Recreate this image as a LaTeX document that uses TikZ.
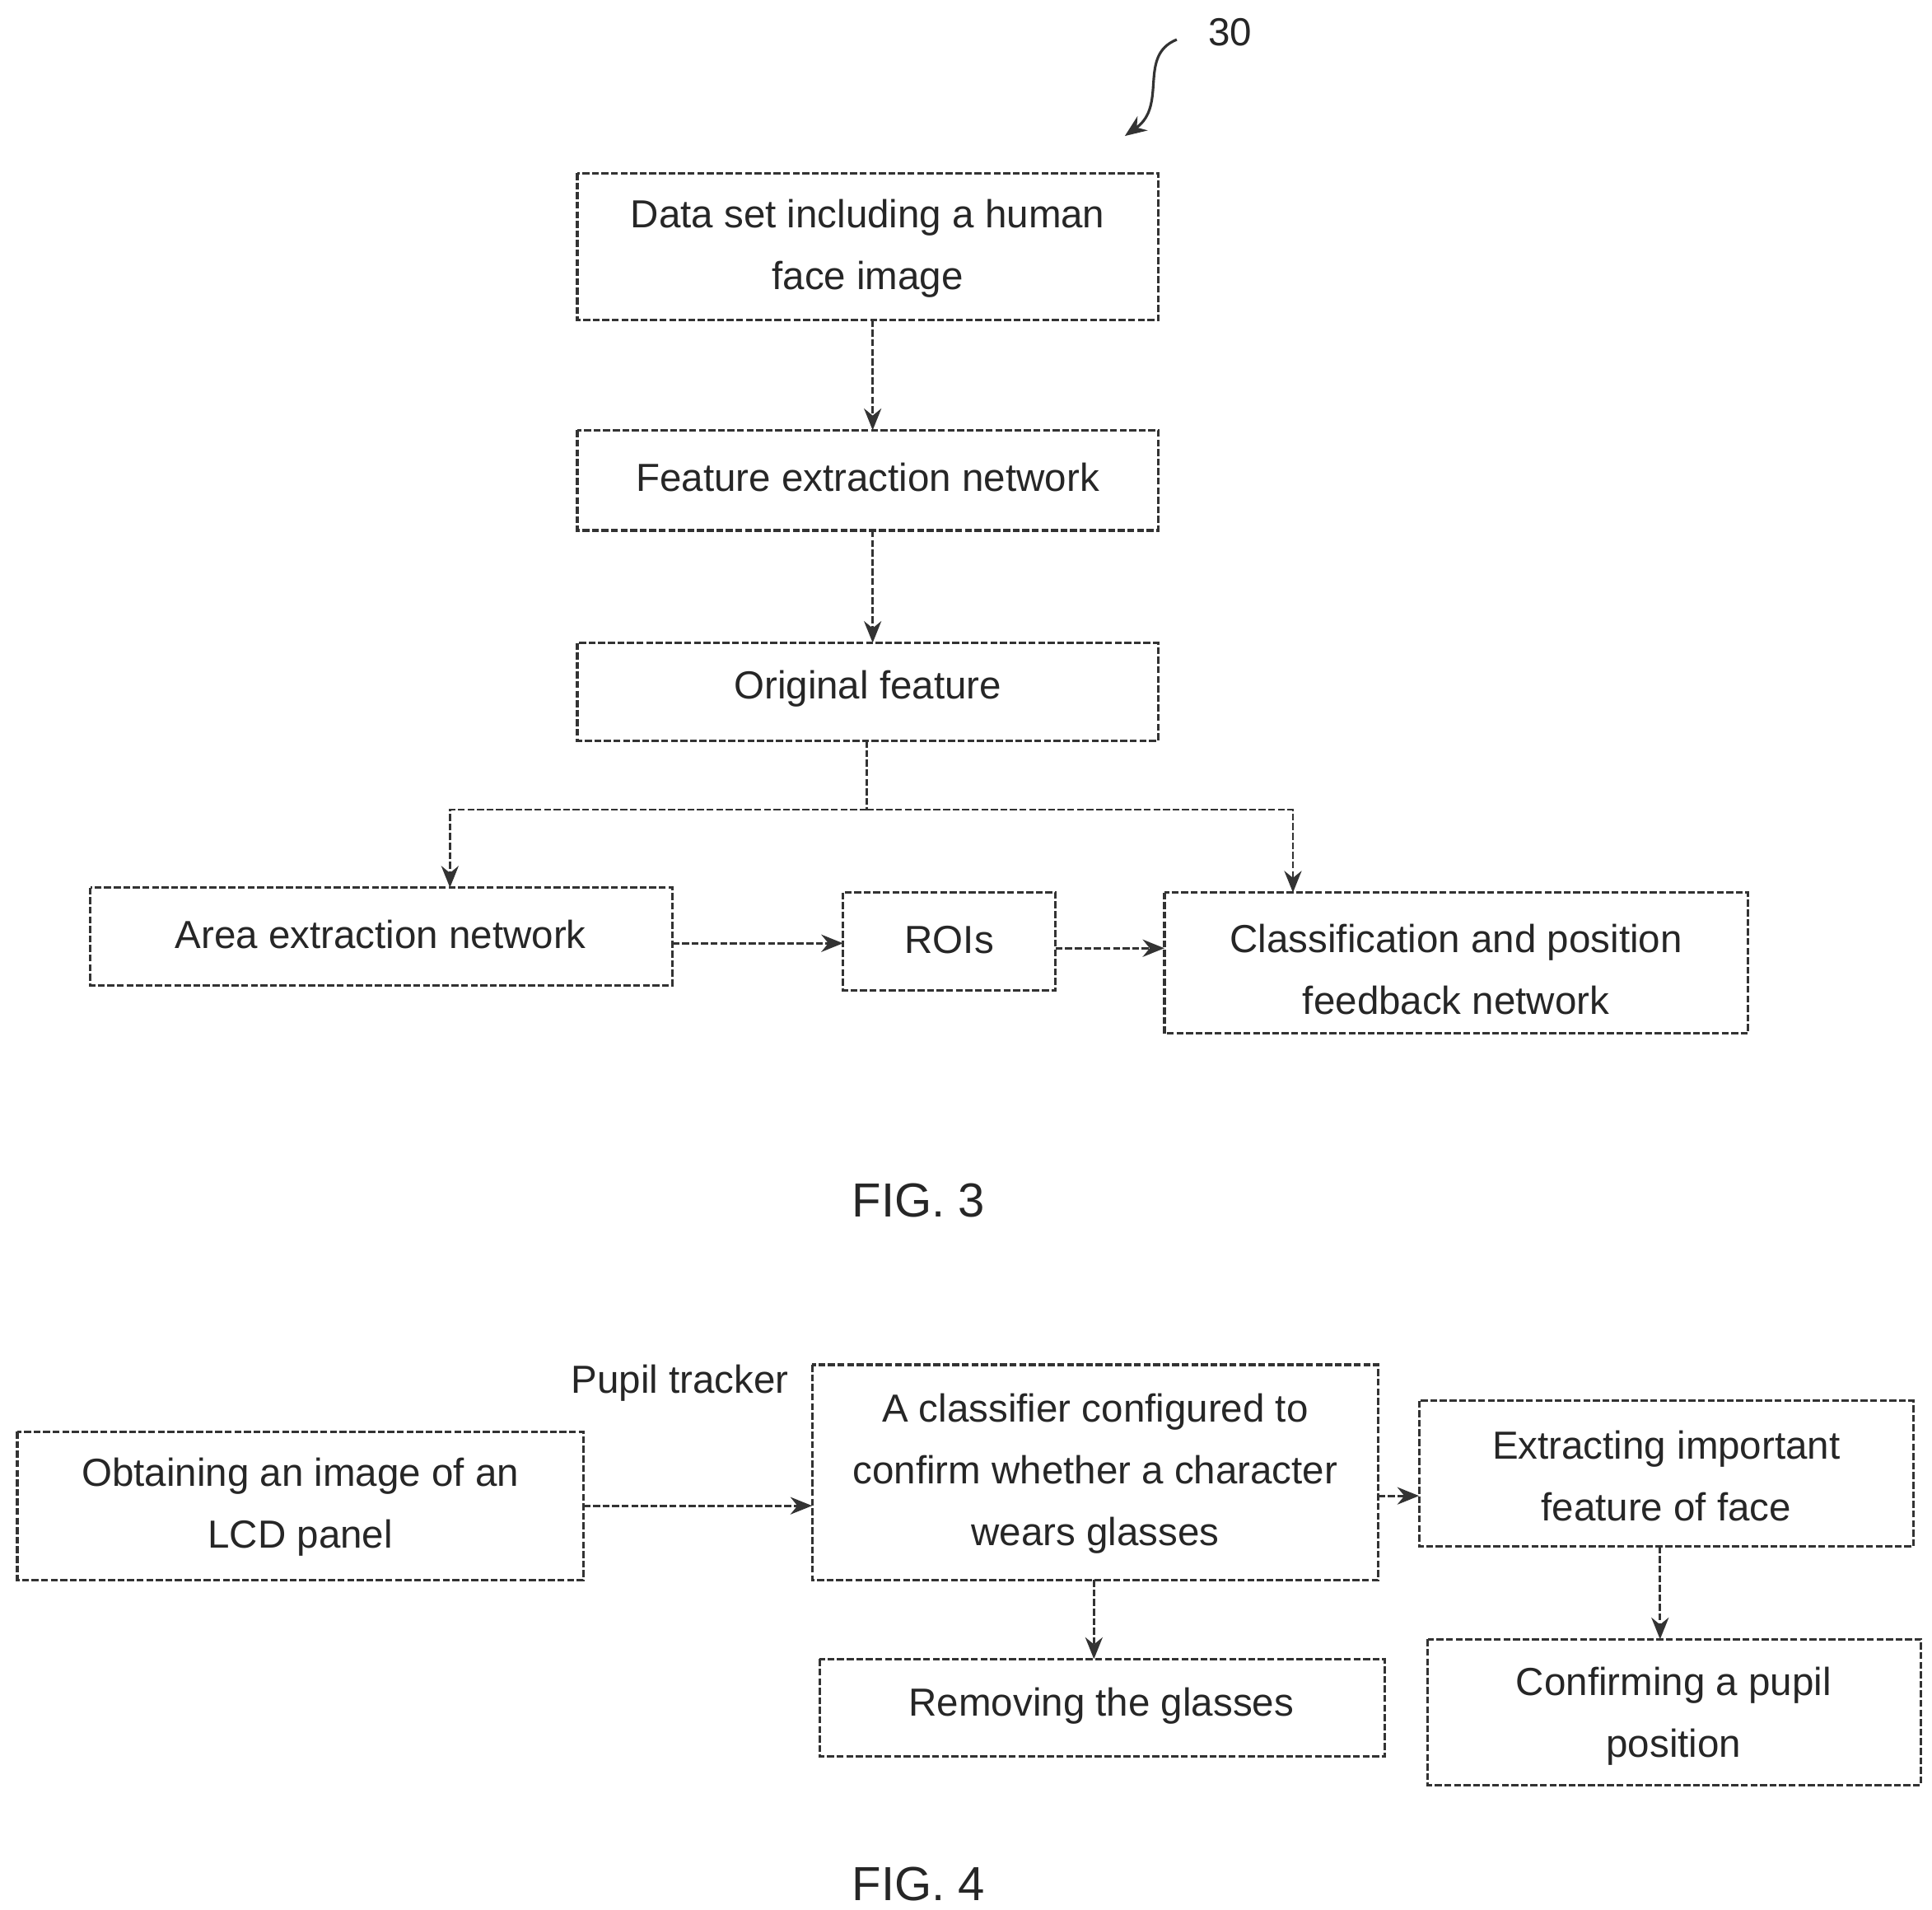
\documentclass[tikz,border=0pt]{standalone}
\usepackage{fontspec}
\setmainfont{Liberation Sans}
\usetikzlibrary{arrows.meta}
\begin{document}
\begin{tikzpicture}[x=0.01cm,y=-0.01cm,
 box/.style={draw=black!80,line width=0.6pt,dash pattern=on 1.6pt off 0.6pt},
 txt/.style={font=\fontsize{9}{14.2}\selectfont,align=center,text=black!85},
 arr/.style={draw=black!80,line width=0.5pt,dash pattern=on 1.6pt off 0.6pt,-{Stealth[length=5pt,width=4pt]}}]
\useasboundingbox (0,0) rectangle (1563,1545);
% FIG 3
\draw[box] (467,140) rectangle (937,259); \node[txt] (n1) at (702,201) {Data set including a human\\face image};
\coordinate (b1) at (706,259);
\draw[box] (467,348) rectangle (937,429); \node[txt] (n2) at (702,386) {Feature extraction network};
\coordinate (t2) at (706,348); \coordinate (b2) at (706,429);
\draw[box] (467,520) rectangle (937,599); \node[txt] (n3) at (702,557) {Original feature};
\coordinate (t3) at (706,520); \coordinate (b3) at (701,599);
\draw[box] (73,718) rectangle (544,797); \node[txt] (n4) at (308,756) {Area extraction network};
\draw[box] (682,722) rectangle (854,801); \node[txt] (n5) at (768,760) {ROIs};
\draw[box] (942,722) rectangle (1414,836); \node[txt] (n6) at (1178,784) {Classification and position\\feedback network};
\draw[arr] (b1) -- (t2);
\draw[arr] (b2) -- (t3);
\coordinate (j) at (701,655); \coordinate (jl) at (364,655); \coordinate (jr) at (1046,655);
\draw[box] (b3) -- (j);
\draw[arr] (j) -- (jl) -- (364,718);
\draw[arr] (j) -- (jr) -- (1046,722);
\draw[arr] (544,763) -- (682,763);
\draw[arr] (854,767) -- (942,767);
\node[txt,font=\fontsize{11}{13}\selectfont] (f3) at (743,971) {FIG. 3};
\node[txt] (l30) at (995,26) {30};
\draw[arr,solid,line width=0.6pt] (952,32) .. controls (920,45) and (945,85) .. (910,110);
% FIG 4
\node[txt] (pt) at (550,1119) {Pupil tracker};
\draw[box] (14,1158) rectangle (472,1278); \node[txt] (a) at (243,1219) {Obtaining an image of an\\LCD panel};
\draw[box] (657,1104) rectangle (1115,1278); \node[txt] (b) at (886,1192) {A classifier configured to\\confirm whether a character\\wears glasses};
\draw[box] (1148,1133) rectangle (1548,1251); \node[txt] (c) at (1348,1194) {Extracting important\\feature of face};
\draw[box] (663,1342) rectangle (1120,1421); \node[txt] (d) at (891,1380) {Removing the glasses};
\draw[box] (1155,1326) rectangle (1554,1444); \node[txt] (e) at (1354,1388) {Confirming a pupil\\position};
\draw[arr] (472,1218) -- (657,1218);
\draw[arr] (1115,1210) -- (1148,1210);
\draw[arr] (885,1278) -- (885,1342);
\draw[arr] (1343,1251) -- (1343,1326);
\node[txt,font=\fontsize{11}{13}\selectfont] (f4) at (743,1524) {FIG. 4};
\end{tikzpicture}
\end{document}
